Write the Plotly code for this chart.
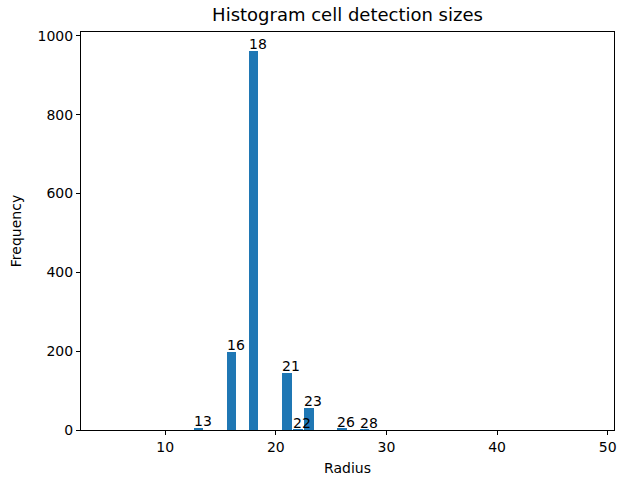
import plotly.graph_objects as go

radius = [13, 16, 18, 21, 22, 23, 26, 28]
counts = [4, 197, 963, 145, 1, 57, 3, 1]
bar_width = 0.85

W, H = 618, 481

fig = go.Figure()
fig.add_trace(go.Bar(x=radius, y=counts, width=bar_width,
                     marker=dict(color="#1f77b4", line=dict(width=0))))

for r, c in zip(radius, counts):
    fig.add_annotation(x=r - bar_width / 2, y=c, text=str(r), showarrow=False,
                       xanchor="left", yanchor="bottom", yshift=-3, xshift=-2,
                       font=dict(size=14, color="black"))

fig.update_layout(
    width=W, height=H,
    margin=dict(l=81, r=4, t=32, b=51, autoexpand=False),
    paper_bgcolor="white", plot_bgcolor="white",
    font=dict(family="DejaVu Sans", size=14, color="black"),
    title=dict(text="Histogram cell detection sizes", x=0.5, xanchor="center",
               xref="paper", yref="container", y=1 - 15 / H, yanchor="middle",
               font=dict(size=18)),
    showlegend=False,
    bargap=0,
)
fig.update_xaxes(range=[2.39, 50.57], tickvals=[10, 20, 30, 40, 50],
                 showline=True, mirror=True, linecolor="black", linewidth=1,
                 ticks="outside", ticklen=4, tickcolor="black",
                 showgrid=False, zeroline=False, automargin=False,
                 tickfont=dict(size=14),
                 title=dict(text="Radius", standoff=9, font=dict(size=14)))
fig.update_yaxes(range=[0, 1010], tickvals=[0, 200, 400, 600, 800, 1000],
                 showline=True, mirror=True, linecolor="black", linewidth=1,
                 ticks="outside", ticklen=4, tickcolor="black",
                 showgrid=False, zeroline=False, automargin=False,
                 tickfont=dict(size=14),
                 title=dict(text="Frequency", standoff=12, font=dict(size=14)))

fig.write_html("out.html",
               config={"displayModeBar": False},
               post_script="document.body.style.margin='0';"
                           "document.body.style.overflow='hidden';")
